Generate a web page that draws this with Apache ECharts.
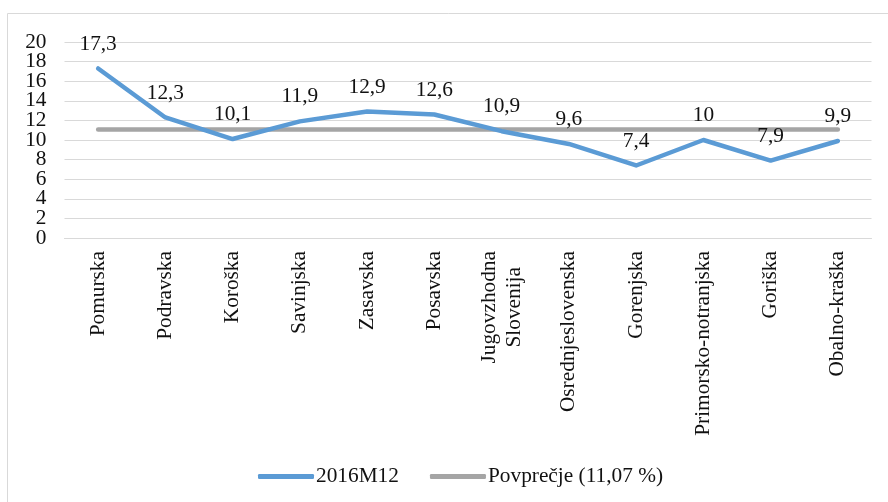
<!DOCTYPE html>
<html>
<head>
<meta charset="utf-8">
<script src="https://cdn.jsdelivr.net/npm/echarts@6/dist/echarts.min.js"></script>
<style>html,body{margin:0;padding:0;background:#fff}#c{width:888px;height:502px}</style>
</head>
<body>
<div id="c"></div>
<script>
var categories = ['Pomurska','Podravska','Koroška','Savinjska','Zasavska','Posavska','Jugovzhodna\nSlovenija','Osrednjeslovenska','Gorenjska','Primorsko-notranjska','Goriška','Obalno-kraška'];
var values2016M12 = [17.3,12.3,10.1,11.9,12.9,12.6,10.9,9.6,7.4,10,7.9,9.9];
var averageValue = 11.07;
var averageValues = categories.map(function(){ return averageValue; });
var yTicks = {min: 0, max: 20, interval: 2};

var FONT = '"Liberation Serif", "Times New Roman", serif';
var FS = 21.33;
var yLabelBase = {margin: 18, fontFamily: FONT, fontSize: FS, color: '#111', hideOverlap: false};
var chart = echarts.init(document.getElementById('c'));
chart.setOption({
  animation: false,
  graphic: [{
    type: 'rect', silent: true, z: -10,
    shape: {x: 7.5, y: 13.5, width: 900, height: 520},
    style: {fill: 'none', stroke: '#d9d9d9', lineWidth: 1}
  }],
  grid: {left: 64.5, right: 16.5, top: 42, bottom: 264},
  legend: {
    left: 253, top: 461,
    itemWidth: 56, itemHeight: 5, itemGap: 31,
    icon: 'roundRect',
    textStyle: {fontFamily: FONT, fontSize: FS, color: '#111', padding: [0,0,0,-3]},
    data: [
      {name: '2016M12', itemStyle: {color: '#5B9BD5', opacity: 1}},
      {name: 'Povprečje (11,07 %)', itemStyle: {color: '#A5A5A5', opacity: 1}}
    ]
  },
  xAxis: {
    type: 'category',
    data: categories,
    boundaryGap: true,
    axisLine: {show: true, lineStyle: {color: '#d9d9d9', width: 1}},
    axisTick: {show: false},
    axisLabel: {
      interval: 0, rotate: 90, margin: 13,
      fontFamily: FONT, fontSize: FS, color: '#111', lineHeight: 25,
      formatter: function(v){ return v.split('\n').map(function(s){ return '{c|' + s + '}'; }).join('\n'); },
      rich: {c: {align: 'center', fontFamily: FONT, fontSize: FS, color: '#111', lineHeight: 25}}
    }
  },
  yAxis: [{
    type: 'value',
    min: yTicks.min, max: yTicks.max, interval: yTicks.interval,
    axisLine: {show: false},
    axisTick: {show: false},
    splitLine: {lineStyle: {color: '#d9d9d9', width: 1}},
    axisLabel: Object.assign({}, yLabelBase, {
      showMinLabel: true, showMaxLabel: true,
      formatter: function(v){ return (v % 4 === 0) ? String(v) : ''; }
    })
  }, {
    type: 'value', position: 'left',
    min: yTicks.min, max: yTicks.max, interval: yTicks.interval,
    axisLine: {show: false},
    axisTick: {show: false},
    splitLine: {show: false},
    axisLabel: Object.assign({}, yLabelBase, {
      showMinLabel: false, showMaxLabel: false,
      formatter: function(v){ return (v % 4 === 2) ? String(v) : ''; }
    })
  }],
  series: [{
    name: '2016M12',
    type: 'line',
    data: values2016M12,
    symbol: 'circle',
    symbolSize: 0.1,
    showSymbol: true,
    itemStyle: {color: '#5B9BD5'},
    lineStyle: {color: '#5B9BD5', width: 4.5, cap: 'round', join: 'round'},
    z: 3,
    label: {
      show: true, position: 'top', distance: 14,
      fontFamily: FONT, fontSize: FS, color: '#111',
      formatter: function(p){ return String(p.value).replace('.', ','); }
    }
  }, {
    name: 'Povprečje (11,07 %)',
    type: 'line',
    data: averageValues,
    symbol: 'none',
    lineStyle: {color: '#A5A5A5', width: 4.5, cap: 'round'},
    itemStyle: {color: '#A5A5A5'},
    z: 2
  }]
});
</script>
</body>
</html>
